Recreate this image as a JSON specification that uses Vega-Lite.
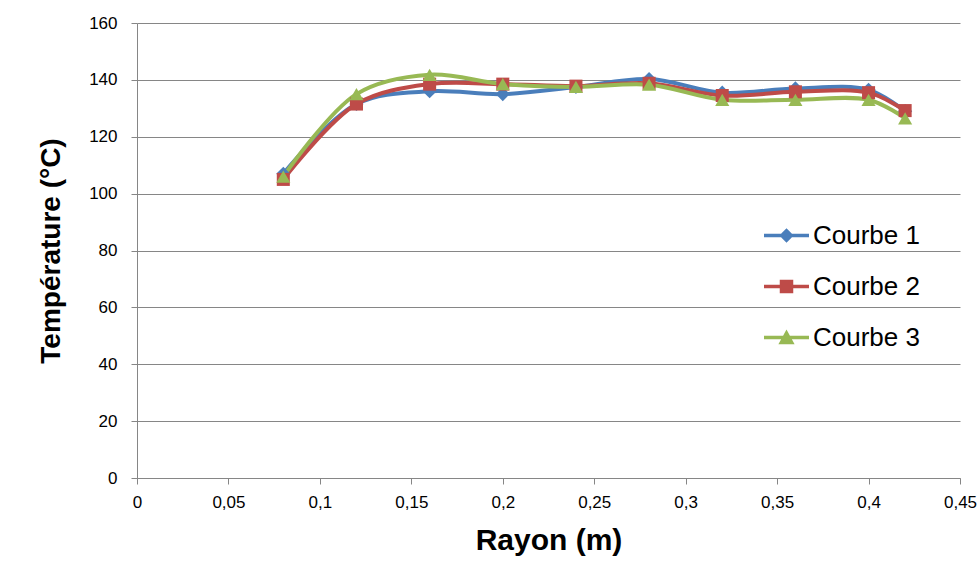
{
  "$schema": "https://vega.github.io/schema/vega-lite/v6.json",
  "width": 823,
  "height": 455,
  "autosize": "none",
  "padding": {"left": 137, "top": 23, "right": 19, "bottom": 84},
  "background": "white",
  "config": {"font": "Liberation Sans", "view": {"stroke": null}},
  "data": {
    "values": [
      {"r": 0.08, "serie": "Courbe 1", "t": 107},
      {"r": 0.12, "serie": "Courbe 1", "t": 131.5},
      {"r": 0.16, "serie": "Courbe 1", "t": 136},
      {"r": 0.20, "serie": "Courbe 1", "t": 135},
      {"r": 0.24, "serie": "Courbe 1", "t": 137.5},
      {"r": 0.28, "serie": "Courbe 1", "t": 140.3},
      {"r": 0.32, "serie": "Courbe 1", "t": 135.5},
      {"r": 0.36, "serie": "Courbe 1", "t": 137},
      {"r": 0.40, "serie": "Courbe 1", "t": 136.5},
      {"r": 0.42, "serie": "Courbe 1", "t": 129},
      {"r": 0.08, "serie": "Courbe 2", "t": 105},
      {"r": 0.12, "serie": "Courbe 2", "t": 131.5},
      {"r": 0.16, "serie": "Courbe 2", "t": 138.5},
      {"r": 0.20, "serie": "Courbe 2", "t": 138.5},
      {"r": 0.24, "serie": "Courbe 2", "t": 137.8},
      {"r": 0.28, "serie": "Courbe 2", "t": 138.8},
      {"r": 0.32, "serie": "Courbe 2", "t": 134.5},
      {"r": 0.36, "serie": "Courbe 2", "t": 135.8},
      {"r": 0.40, "serie": "Courbe 2", "t": 135.5},
      {"r": 0.42, "serie": "Courbe 2", "t": 129.2},
      {"r": 0.08, "serie": "Courbe 3", "t": 106},
      {"r": 0.12, "serie": "Courbe 3", "t": 135},
      {"r": 0.16, "serie": "Courbe 3", "t": 141.8},
      {"r": 0.20, "serie": "Courbe 3", "t": 138.5},
      {"r": 0.24, "serie": "Courbe 3", "t": 137.5},
      {"r": 0.28, "serie": "Courbe 3", "t": 138.3},
      {"r": 0.32, "serie": "Courbe 3", "t": 133},
      {"r": 0.36, "serie": "Courbe 3", "t": 133},
      {"r": 0.40, "serie": "Courbe 3", "t": 133},
      {"r": 0.42, "serie": "Courbe 3", "t": 126.5}
    ]
  },
  "encoding": {
    "x": {
      "field": "r",
      "type": "quantitative",
      "scale": {"domain": [0, 0.45], "nice": false, "zero": false},
      "axis": {
        "values": [0, 0.05, 0.1, 0.15, 0.2, 0.25, 0.3, 0.35, 0.4, 0.45],
        "labelExpr": "replace(format(datum.value, '~g'), '.', ',')",
        "grid": false,
        "tickSize": 6,
        "tickColor": "#868686",
        "domainColor": "#868686",
        "labelFontSize": 17,
        "labelColor": "#000000",
        "labelPadding": 10,
        "labelFlush": false,
        "title": "Rayon (m)",
        "titleFontSize": 30,
        "titleFontWeight": "bold",
        "titleColor": "#000000",
        "titlePadding": 15
      }
    },
    "y": {
      "field": "t",
      "type": "quantitative",
      "scale": {"domain": [0, 160], "nice": false},
      "axis": {
        "values": [0, 20, 40, 60, 80, 100, 120, 140, 160],
        "grid": true,
        "gridColor": "#868686",
        "gridWidth": 1,
        "tickSize": 6,
        "tickColor": "#868686",
        "domainColor": "#868686",
        "labelFontSize": 17,
        "labelColor": "#000000",
        "labelPadding": 14,
        "labelFlush": false,
        "title": "Température (°C)",
        "titleFontSize": 28,
        "titleFontWeight": "bold",
        "titleColor": "#000000",
        "titlePadding": 23
      }
    },
    "color": {
      "field": "serie",
      "type": "nominal",
      "scale": {"domain": ["Courbe 1", "Courbe 2", "Courbe 3"], "range": ["#4A7EBB", "#BE4B48", "#98B954"]},
      "legend": {
        "title": null,
        "orient": "none",
        "legendX": 627,
        "legendY": 190,
        "symbolSize": 2025,
        "symbolStrokeWidth": 0,
        "labelFontSize": 26,
        "labelColor": "#000000",
        "labelOffset": 4,
        "rowPadding": 15,
        "padding": 0
      }
    }
  },
  "layer": [
    {
      "transform": [{"filter": "false"}],
      "mark": {"type": "point", "filled": true, "opacity": 1},
      "encoding": {
        "shape": {
          "field": "serie",
          "type": "nominal",
          "scale": {
            "domain": ["Courbe 1", "Courbe 2", "Courbe 3"],
            "range": [
              "M-1,-0.075H1V0.075H-1Z M0,-0.32L0.32,0L0,0.32L-0.32,0Z",
              "M-1,-0.075H1V0.075H-1Z M-0.3,-0.3H0.3V0.3H-0.3Z",
              "M-1,-0.075H1V0.075H-1Z M0,-0.36L0.36,0.3H-0.36Z"
            ]
          },
          "legend": {
            "title": null,
            "orient": "none",
            "legendX": 627,
            "legendY": 190,
            "symbolSize": 2025,
            "symbolStrokeWidth": 0,
            "labelFontSize": 26,
            "labelColor": "#000000",
            "labelOffset": 4,
            "rowPadding": 15,
            "padding": 0
          }
        }
      }
    },
    {
      "mark": {"type": "line", "interpolate": "catmull-rom", "strokeWidth": 4}
    },
    {
      "transform": [{"filter": "datum.serie === 'Courbe 1'"}],
      "mark": {"type": "point", "filled": true, "opacity": 1, "size": 200, "shape": "diamond"}
    },
    {
      "transform": [{"filter": "datum.serie === 'Courbe 2'"}],
      "mark": {"type": "point", "filled": true, "opacity": 1, "size": 170, "shape": "square"}
    },
    {
      "transform": [{"filter": "datum.serie === 'Courbe 3'"}],
      "mark": {"type": "point", "filled": true, "opacity": 1, "size": 200, "shape": "triangle-up"}
    }
  ]
}
